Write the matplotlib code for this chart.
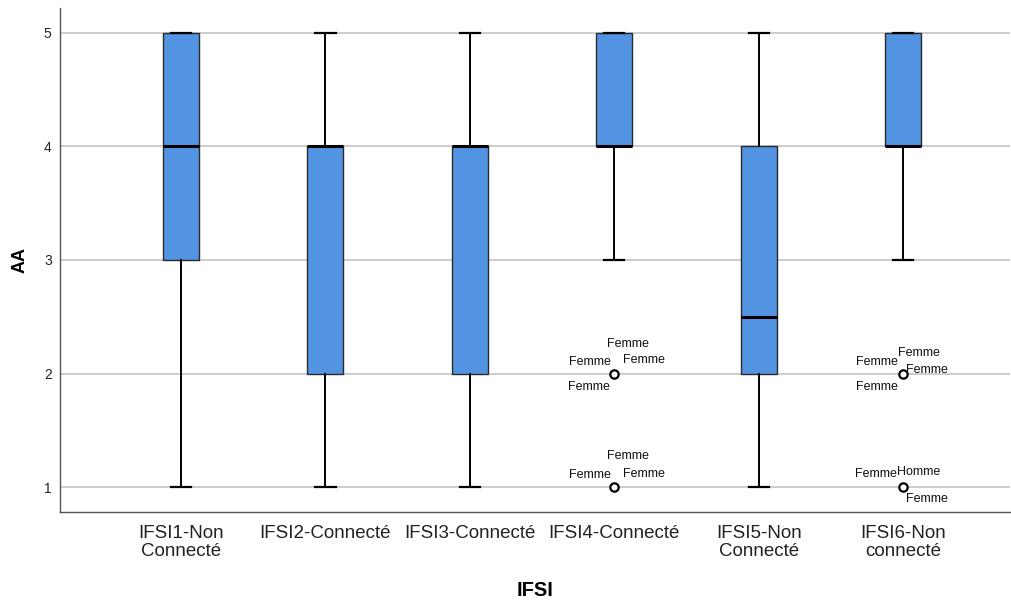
import matplotlib
matplotlib.use('Agg')
import matplotlib.pyplot as plt

plt.rcParams['font.family'] = ['Liberation Sans', 'DejaVu Sans']

# Data
categories = ['IFSI1-Non\nConnecté', 'IFSI2-Connecté', 'IFSI3-Connecté',
              'IFSI4-Connecté', 'IFSI5-Non\nConnecté', 'IFSI6-Non\nconnecté']
whisker_low = [1, 1, 1, 3, 1, 3]
q1 = [3, 2, 2, 4, 2, 4]
medians = [4, 4, 4, 4, 2.5, 4]
q3 = [5, 4, 4, 5, 4, 5]
whisker_high = [5, 5, 5, 5, 5, 5]
outliers = [[], [], [], [2, 1], [], [2, 1]]

# outlier case labels: (group index, value, label)
outlier_labels = [
    (3, 2, 'Femme'), (3, 2, 'Femme'), (3, 2, 'Femme'), (3, 2, 'Femme'),
    (3, 1, 'Femme'), (3, 1, 'Femme'), (3, 1, 'Femme'),
    (5, 2, 'Femme'), (5, 2, 'Femme'), (5, 2, 'Femme'), (5, 2, 'Femme'),
    (5, 1, 'Femme'), (5, 1, 'Homme'), (5, 1, 'Femme'),
]
# label placement in pixels relative to the point (dx, dy, horizontal align)
label_offsets = [
    (14, 30, 'center'), (-3, 12, 'right'), (9, 14, 'left'), (-4, -13, 'right'),
    (14, 31, 'center'), (-3, 12, 'right'), (9, 13, 'left'),
    (-5, 21, 'left'), (-5, 12, 'right'), (3, 4, 'left'), (-5, -13, 'right'),
    (-6, 13, 'right'), (-6, 15, 'left'), (3, -12, 'left'),
]

stats = []
for i in range(len(categories)):
    stats.append({'whislo': whisker_low[i], 'q1': q1[i], 'med': medians[i],
                  'q3': q3[i], 'whishi': whisker_high[i], 'fliers': outliers[i]})

fig = plt.figure(figsize=(10.12, 6.06), dpi=100)
ax = fig.add_axes([0.0593, 0.155, 0.9387, 0.832])

ax.bxp(stats, positions=range(len(categories)), widths=0.25, patch_artist=True,
       boxprops=dict(facecolor='#5294e2', edgecolor='#2a2a2a', linewidth=1),
       medianprops=dict(color='black', linewidth=2.2),
       whiskerprops=dict(color='black', linewidth=1.4),
       capprops=dict(color='black', linewidth=1.6),
       capwidths=0.14,
       flierprops=dict(marker='o', markersize=6, markerfacecolor='white',
                       markeredgecolor='black', markeredgewidth=1.6))

for (g, v, lab), (dx, dy, ha) in zip(outlier_labels, label_offsets):
    ax.annotate(lab, (g, v), xytext=(dx * 0.72, dy * 0.72), textcoords='offset points',
                ha=ha, va='center', fontsize=9, color='#111111')

ax.set_xlim(-0.838, 5.74)
ax.set_ylim(0.78, 5.22)
ax.set_yticks([1, 2, 3, 4, 5])
ax.set_xticks(range(len(categories)))
ax.set_xticklabels(categories, fontsize=13.5, color='#222222', linespacing=1.1)
ax.tick_params(axis='y', labelsize=10, colors='#222222', length=0, pad=6)
ax.tick_params(axis='x', length=0, pad=9)
ax.grid(axis='y', color='#c8c8c8', linewidth=1.3)
ax.set_axisbelow(True)
for s in ['top', 'right']:
    ax.spines[s].set_visible(False)
for s in ['left', 'bottom']:
    ax.spines[s].set_color('#555555')
    ax.spines[s].set_linewidth(1)

ax.set_ylabel('AA', fontsize=13, fontweight='bold', labelpad=11)
ax.set_xlabel('IFSI', fontsize=14.5, fontweight='bold', labelpad=15)

fig.savefig('out.png', dpi=100)
